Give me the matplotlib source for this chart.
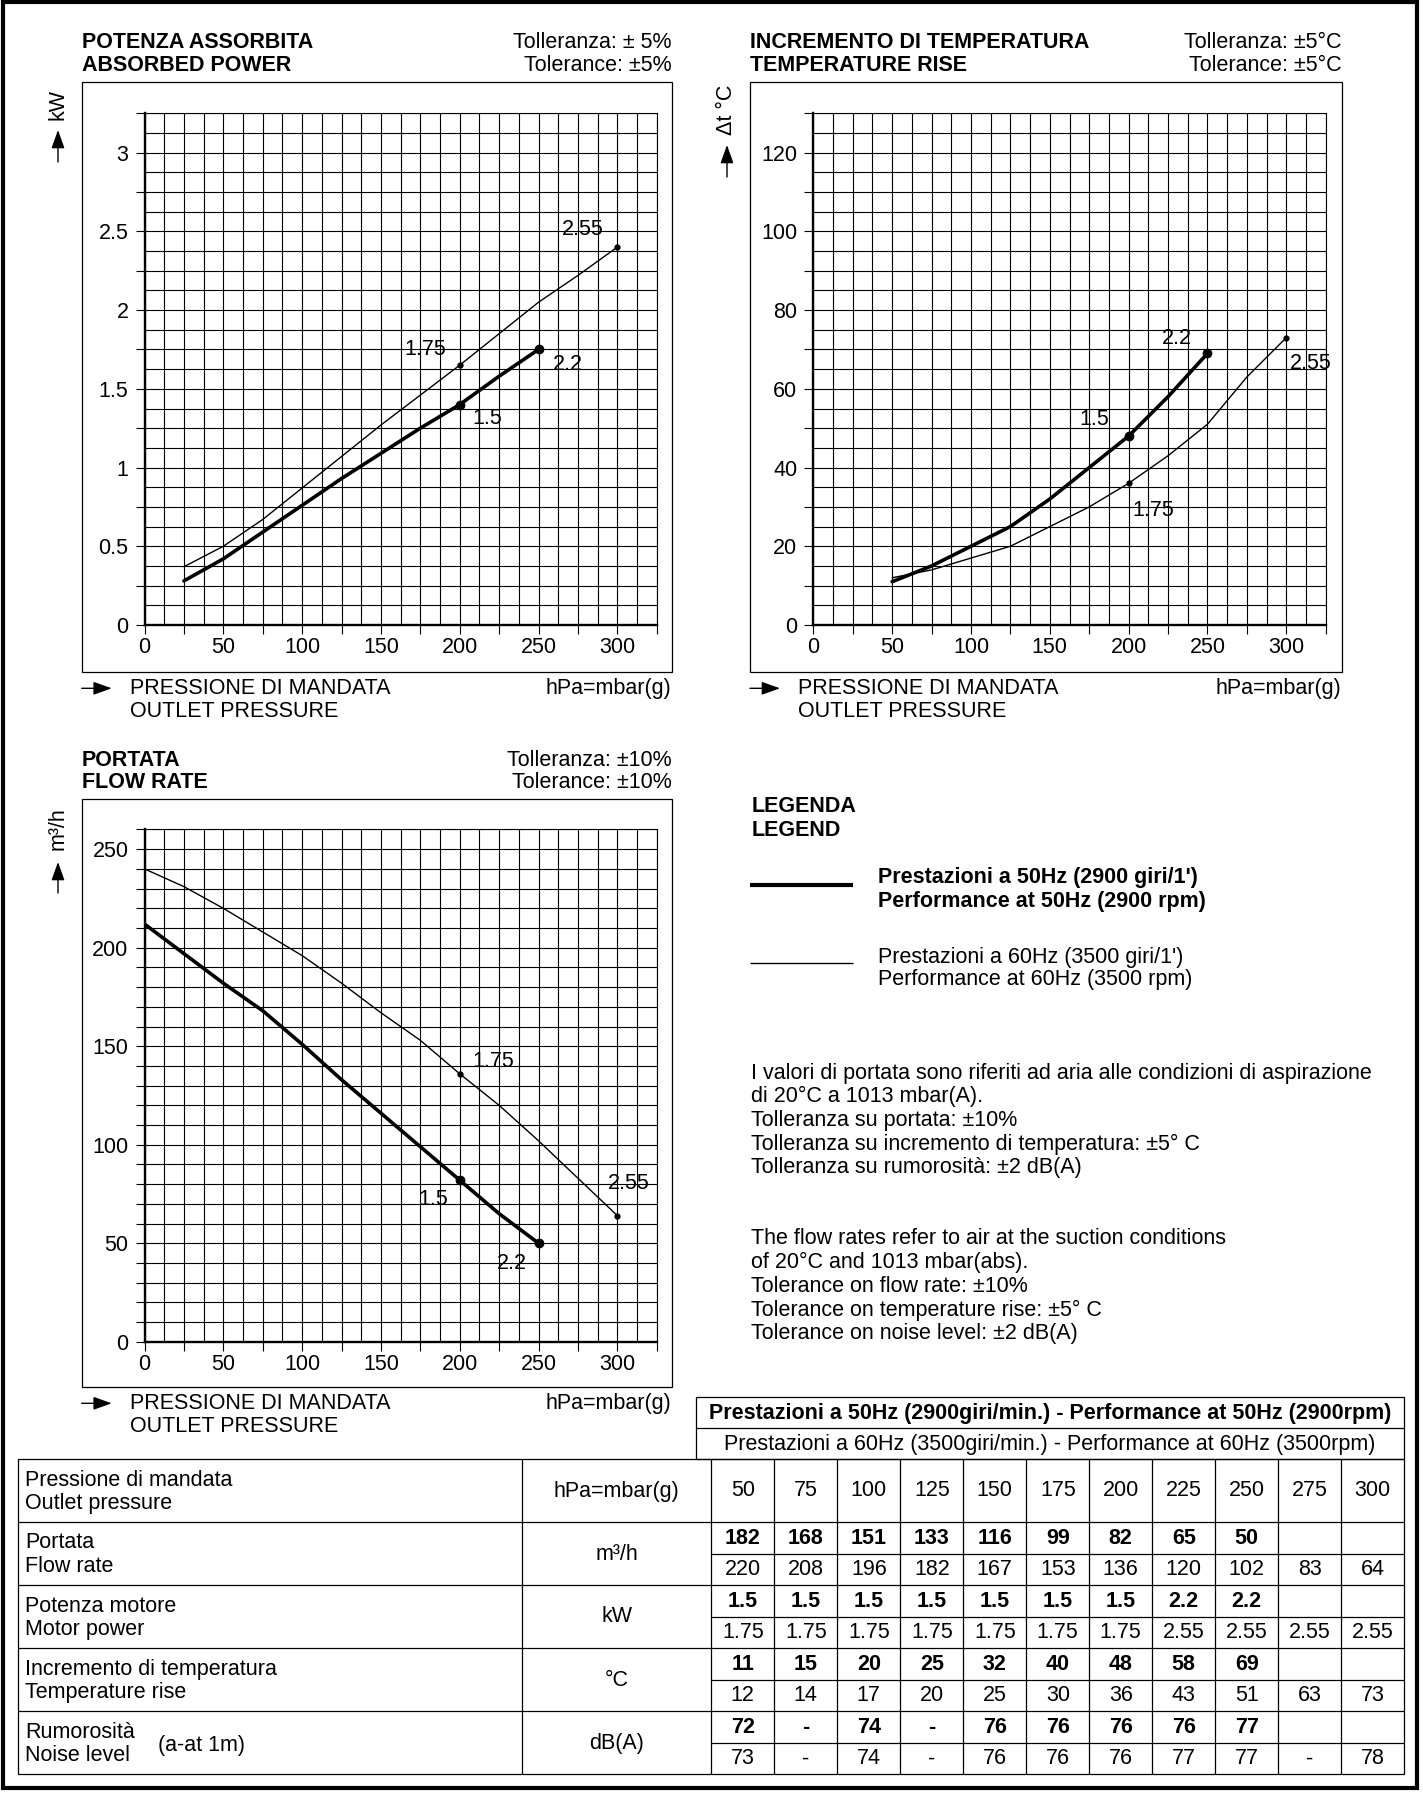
import matplotlib.pyplot as plt
from matplotlib.ticker import MultipleLocator, FuncFormatter
from matplotlib.patches import Rectangle

plt.rcParams['font.family'] = ['Liberation Sans', 'DejaVu Sans']
plt.rcParams['font.size'] = 15.5

W, H = 1423, 1794

# table values (outlet pressure in hPa)
pressure = [50, 75, 100, 125, 150, 175, 200, 225, 250, 275, 300]
flow_50 = [182, 168, 151, 133, 116, 99, 82, 65, 50]
flow_60 = [220, 208, 196, 182, 167, 153, 136, 120, 102, 83, 64]
motor_50 = ['1.5', '1.5', '1.5', '1.5', '1.5', '1.5', '1.5', '2.2', '2.2']
motor_60 = ['1.75', '1.75', '1.75', '1.75', '1.75', '1.75', '1.75',
            '2.55', '2.55', '2.55', '2.55']
temp_50 = [11, 15, 20, 25, 32, 40, 48, 58, 69]
temp_60 = [12, 14, 17, 20, 25, 30, 36, 43, 51, 63, 73]
noise_50 = ['72', '-', '74', '-', '76', '76', '76', '76', '77']
noise_60 = ['73', '-', '74', '-', '76', '76', '76', '77', '77', '-', '78']

# curve points that are only on the charts
flow_p0 = [0, 25]
flow0_50 = [212, 197]
flow0_60 = [240, 231]
power_p = [25, 50, 75, 100, 125, 150, 175, 200, 225, 250, 275, 300]
power_50 = [0.28, 0.42, 0.59, 0.76, 0.93, 1.09, 1.25, 1.40, 1.58, 1.75]
power_60 = [0.37, 0.50, 0.67, 0.87, 1.07, 1.27, 1.46, 1.65, 1.85, 2.05, 2.22, 2.40]

# motor change points, marked with a dot and the motor size
dots_50 = [200, 250]
dots_60 = [200, 300]

row_labels = [('Pressione di mandata', 'Outlet pressure'),
              ('Portata', 'Flow rate'),
              ('Potenza motore', 'Motor power'),
              ('Incremento di temperatura', 'Temperature rise'),
              ('Rumorosità', 'Noise level')]
row_units = ['hPa=mbar(g)', 'm³/h', 'kW', '°C', 'dB(A)']

fig = plt.figure(figsize=(W / 100, H / 100), dpi=100)
bg = fig.add_axes([0, 0, 1, 1], zorder=0)
bg.set_xlim(0, W)
bg.set_ylim(H, 0)
bg.axis('off')

arrow = dict(arrowstyle='-|>,head_length=0.7,head_width=0.25', lw=1.0,
             color='black', shrinkA=0, shrinkB=0, mutation_scale=16)


def box(l, t, r, b, lw=0.9):
    bg.add_patch(Rectangle((l, t), r - l, b - t, fill=False, lw=lw, ec='black'))


def line(x0, y0, x1, y1, lw=0.9):
    bg.plot([x0, x1], [y0, y1], color='black', lw=lw, solid_capstyle='butt')


def chart(grid, ymax, ycell, ytick, ystep, s50, s60, offs):
    l, t, r, b = grid
    ax = fig.add_axes([l / W, 1 - b / H, (r - l) / W, (b - t) / H], zorder=2)
    ax.set_xlim(0, 325)
    ax.set_ylim(0, ymax)
    ax.xaxis.set_major_locator(MultipleLocator(25))
    ax.xaxis.set_minor_locator(MultipleLocator(12.5))
    ax.yaxis.set_major_locator(MultipleLocator(ytick))
    ax.yaxis.set_minor_locator(MultipleLocator(ycell))
    ax.xaxis.set_major_formatter(FuncFormatter(
        lambda v, p: f'{v:g}' if v % 50 == 0 and v <= 300 else ''))
    ax.yaxis.set_major_formatter(FuncFormatter(
        lambda v, p: f'{v:g}' if abs(v / ystep - round(v / ystep)) < 1e-6 else ''))
    ax.grid(which='both', color='black', lw=0.8)
    ax.set_axisbelow(True)
    ax.tick_params(which='major', direction='out', length=6.5, width=0.8,
                   labelsize=15.5)
    ax.tick_params(axis='x', pad=2)
    ax.tick_params(axis='y', pad=5)
    ax.tick_params(which='minor', length=0)
    for s in ('left', 'bottom'):
        ax.spines[s].set_linewidth(1.7)
    for s in ('top', 'right'):
        ax.spines[s].set_linewidth(0.8)

    for (xs, ys, motors, dots), lw, ms, off in ((s50, 2.6, 6, offs[0]),
                                                (s60, 1.0, 3.5, offs[1])):
        ax.plot(xs, ys, color='black', lw=lw, solid_joinstyle='round',
                solid_capstyle='round', zorder=3)
        lookup = dict(zip(xs, ys))
        for d, (dx, dy) in zip(dots, off):
            ax.plot(d, lookup[d], 'o', color='black', ms=ms, zorder=4)
            ax.annotate(motors[pressure.index(d)], (d, lookup[d]),
                        xytext=(dx, dy), textcoords='offset points',
                        ha='center', va='center', fontsize=15.5)
    return ax


def panel(frame, title, tol, ylab, ylab_pos):
    l, t, r, b = frame
    box(l, t, r, b)
    bg.text(l, t - 39, title[0], fontweight='bold', va='center', ha='left')
    bg.text(l, t - 16, title[1], fontweight='bold', va='center', ha='left')
    bg.text(r, t - 39, tol[0], va='center', ha='right')
    bg.text(r, t - 16, tol[1], va='center', ha='right')
    bg.annotate('', xy=(l + 30, b + 16), xytext=(l, b + 16), arrowprops=arrow)
    bg.text(l + 48, b + 16, 'PRESSIONE DI MANDATA', va='center', ha='left')
    bg.text(l + 48, b + 39.5, 'OUTLET PRESSURE', va='center', ha='left')
    bg.text(r, b + 16, 'hPa=mbar(g)', va='center', ha='right')
    xl, ytxt, yhead, ytail = ylab_pos
    bg.annotate('', xy=(xl, yhead), xytext=(xl, ytail), arrowprops=arrow)
    bg.text(xl, ytxt, ylab, rotation=90, va='center', ha='center')


# outer frame of the sheet
box(2.5, 2.5, 1417, 1788, lw=3)

# absorbed power
panel((81.7, 81.7, 671.7, 672.3), ('POTENZA ASSORBITA', 'ABSORBED POWER'),
      ('Tolleranza: ± 5%', 'Tolerance: ±5%'), 'kW', (58, 105, 130, 162))
chart((144.5, 113.3, 656.7, 625.0), 3.25, 0.125, 0.25, 0.5,
      (power_p[:len(power_50)], power_50, motor_50, dots_50),
      (power_p, power_60, motor_60, dots_60),
      [[(20, -10), (21, -10.5)], [(-25, 11), (-25, 12.7)]])

# temperature rise
panel((750.0, 81.7, 1341.7, 672.3), ('INCREMENTO DI TEMPERATURA', 'TEMPERATURE RISE'),
      ('Tolleranza: ±5°C', 'Tolerance: ±5°C'), 'Δt °C', (727, 110, 145, 177))
chart((813.3, 113.3, 1325.7, 625.0), 130, 5, 10, 20,
      (pressure[:len(temp_50)], temp_50, motor_50, dots_50),
      (pressure, temp_60, motor_60, dots_60),
      [[(-24.5, 12), (-22, 10.8)], [(18, -19.4), (17.3, -18.5)]])

# flow rate
panel((81.7, 799.0, 671.7, 1387.3), ('PORTATA', 'FLOW RATE'),
      ('Tolleranza: ±10%', 'Tolerance: ±10%'), 'm³/h', (58, 829, 862, 893))
chart((144.5, 829.5, 656.7, 1341.7), 260, 10, 10, 50,
      (flow_p0 + pressure[:len(flow_50)], flow0_50 + flow_50, motor_50, dots_50),
      (flow_p0 + pressure, flow0_60 + flow_60, motor_60, dots_60),
      [[(-19, -14), (-19.4, -14.8)], [(23.8, 8.9), (8.6, 23)]])

# legend and notes
bg.text(752, 806, 'LEGENDA', fontweight='bold', va='center')
bg.text(752, 830, 'LEGEND', fontweight='bold', va='center')
line(750, 885, 853, 885, lw=3)
bg.text(878, 878, "Prestazioni a 50Hz (2900 giri/1')", fontweight='bold', va='center')
bg.text(878, 902, 'Performance at 50Hz (2900 rpm)', fontweight='bold', va='center')
line(750, 963, 853, 963, lw=1)
bg.text(878, 957, "Prestazioni a 60Hz (3500 giri/1')", va='center')
bg.text(878, 980, 'Performance at 60Hz (3500 rpm)', va='center')

notes_it = ['I valori di portata sono riferiti ad aria alle condizioni di aspirazione',
            'di 20°C a 1013 mbar(A).',
            'Tolleranza su portata: ±10%',
            'Tolleranza su incremento di temperatura: ±5° C',
            'Tolleranza su rumorosità: ±2 dB(A)']
notes_en = ['The flow rates refer to air at the suction conditions',
            'of 20°C and 1013 mbar(abs).',
            'Tolerance on flow rate: ±10%',
            'Tolerance on temperature rise: ±5° C',
            'Tolerance on noise level: ±2 dB(A)']
for i, s in enumerate(notes_it):
    bg.text(751, 1073 + i * 23.7, s, va='center')
for i, s in enumerate(notes_en):
    bg.text(751, 1238 + i * 24, s, va='center')

# table
t_left, t_unit, t_vals, t_right = 18.3, 522.3, 711.3, 1404.2
t_top, row_h = 1459.5, 63.0
col_w = (t_right - t_vals) / len(pressure)
t_bot = t_top + row_h * 5

box(695.6, 1396.7, t_right, t_top)
line(695.6, 1428.3, t_right, 1428.3)
bg.text((695.6 + t_right) / 2, 1413, 'Prestazioni a 50Hz (2900giri/min.) - Performance at 50Hz (2900rpm)',
        fontweight='bold', ha='center', va='center')
bg.text((695.6 + t_right) / 2, 1444.5, 'Prestazioni a 60Hz (3500giri/min.) - Performance at 60Hz (3500rpm)',
        ha='center', va='center')

box(t_left, t_top, t_right, t_bot)
for k in range(1, 5):
    line(t_left, t_top + k * row_h, t_right, t_top + k * row_h)
    line(t_vals, t_top + (k + 0.5) * row_h, t_right, t_top + (k + 0.5) * row_h)
line(t_unit, t_top, t_unit, t_bot)
for j in range(len(pressure)):
    x = t_vals + j * col_w
    line(x, t_top, x, t_bot)

for k, ((it, en), unit) in enumerate(zip(row_labels, row_units)):
    y0 = t_top + k * row_h
    bg.text(25, y0 + 20.5, it, va='center')
    bg.text(25, y0 + 44, en, va='center')
    bg.text((t_unit + t_vals) / 2, y0 + row_h / 2, unit, ha='center', va='center')
bg.text(158, t_top + 4 * row_h + 34, '(a-at 1m)', va='center')

for j, p in enumerate(pressure):
    bg.text(t_vals + (j + 0.5) * col_w, t_top + row_h / 2, str(p), ha='center', va='center')

rows = [(flow_50, flow_60), (motor_50, motor_60), (temp_50, temp_60), (noise_50, noise_60)]
for k, (v50, v60) in enumerate(rows, start=1):
    y0 = t_top + k * row_h
    for j, v in enumerate(v50):
        bg.text(t_vals + (j + 0.5) * col_w, y0 + row_h * 0.25, str(v),
                ha='center', va='center', fontweight='bold')
    for j, v in enumerate(v60):
        bg.text(t_vals + (j + 0.5) * col_w, y0 + row_h * 0.75, str(v),
                ha='center', va='center')

fig.savefig('out.png', dpi=100)
